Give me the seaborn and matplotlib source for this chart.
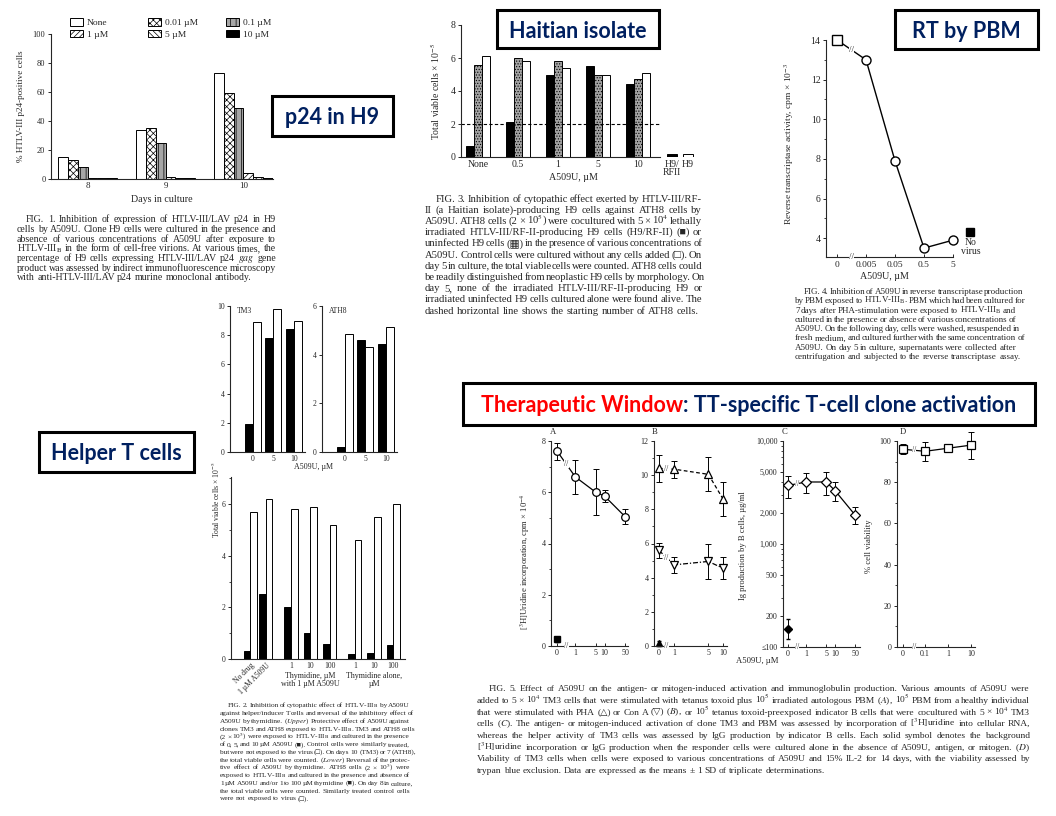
import numpy as np
import pandas as pd
import matplotlib
matplotlib.use("Agg")
import matplotlib.pyplot as plt
import matplotlib.transforms as mtrans
from matplotlib.legend import Legend
from matplotlib.patches import Patch, Rectangle
from matplotlib.ticker import LogLocator, NullFormatter
import seaborn as sns

W, H = 1056, 816

# ---------------- data ----------------
# Fig. 1  p24 in H9
days = ["8", "9", "10"]
p24_levels = ["None", "0.01 µM", "0.1 µM", "1 µM", "5 µM", "10 µM"]
p24_none = [15, 34, 73]
p24_001 = [13, 35, 59]
p24_01 = [8, 25, 49]
p24_1 = [1, 1.5, 4]
p24_5 = [1, 1, 1.5]
p24_10 = [1, 1, 1]

# Fig. 3  Haitian isolate
rf_doses = ["None", "0.5", "1", "5", "10"]
rf_series = ["H9/RF-II", "H9", "no cells"]
rf_h9rf = [0.65, 2.1, 4.95, 5.5, 4.4]
rf_h9 = [5.6, 6.0, 5.8, 5.0, 4.7]
rf_ctrl = [6.1, 5.8, 5.4, 5.0, 5.1]
rf_alone_labels = ["H9/\nRFII", "H9"]
rf_alone = [0.2, 0.2]
ath8_start = 2

# Fig. 4  RT by PBM
rt_doses = ["0", "0.005", "0.05", "0.5", "5"]
rt_cpm = [14.0, 13.0, 7.9, 3.5, 3.9]
rt_novirus = 4.3

# Fig. 2  Helper T cells
up_doses = ["0", "5", "10"]
tm3_virus = [1.9, 7.8, 8.4]
tm3_ctrl = [8.9, 9.8, 9.0]
ath8_virus = [0.2, 4.6, 4.45]
ath8_ctrl = [4.85, 4.3, 5.15]
thy_labels = ["No drug", "1 µM A509U", "1", "10", "100", "1", "10", "100"]
thy_virus = [0.3, 2.5, 2.0, 1.0, 0.6, 0.2, 0.25, 0.55]
thy_ctrl = [5.7, 6.2, 5.8, 5.9, 5.2, 4.6, 5.5, 6.0]

# Fig. 5  therapeutic window
a_dose = [0, 1, 5, 10, 50]
a_cpm = [7.6, 6.6, 6.0, 5.85, 5.05]
a_sd = [0.33, 0.65, 0.9, 0.23, 0.3]
a_bg, a_bg_sd = 0.26, 0.1
b_dose = [0, 1, 5, 10]
b_pha = [10.4, 10.35, 10.05, 8.6]
b_pha_sd = [0.8, 0.5, 1.0, 1.0]
b_cona = [5.6, 4.75, 4.95, 4.55]
b_cona_sd = [0.45, 0.45, 1.0, 0.65]
b_bg, b_bg_sd = 0.15, 0.15
c_dose = [0, 1, 5, 10, 50]
c_igg = [3700, 4000, 4000, 3300, 1900]
c_lo = [2800, 3100, 3000, 2600, 1550]
c_hi = [4600, 4900, 5000, 4000, 2300]
c_bg, c_bg_lo, c_bg_hi = 150, 120, 185
d_dose = [0, 0.1, 1, 10]
d_viab = [96, 95, 96.5, 98]
d_sd = [2.5, 4.5, 2, 6.5]

# ---------------- style ----------------
sns.set_style("ticks")
plt.rcParams["font.family"] = ["Liberation Serif", "DejaVu Serif", "DejaVu Sans"]
plt.rcParams["mathtext.fontset"] = "stix"
plt.rcParams["hatch.linewidth"] = 0.5
plt.rcParams["axes.linewidth"] = 0.8
plt.rcParams["xtick.major.size"] = 2.5
plt.rcParams["ytick.major.size"] = 2.5
plt.rcParams["ytick.minor.size"] = 1.5
plt.rcParams["xtick.major.width"] = 0.7
plt.rcParams["ytick.major.width"] = 0.7
plt.rcParams["ytick.minor.width"] = 0.6
plt.rcParams["xtick.major.pad"] = 1.5
plt.rcParams["ytick.major.pad"] = 1.5

NAVY = "#002060"
RED = "#FF0000"
BOXFONT = ["Lato", "DejaVu Sans"]

fig = plt.figure(figsize=(W / 100, H / 100), dpi=100)
fig.patch.set_facecolor("white")
renderer = fig.canvas.get_renderer()


def px_axes(x0, y0, x1, y1):
    return fig.add_axes([x0 / W, 1 - y1 / H, (x1 - x0) / W, (y1 - y0) / H])


def ftext(x, y, s, **kw):
    return fig.text(x / W, 1 - y / H, s, **kw)


def caption(lines, x0, x1, y0, y1, size, indent=9):
    # justified block of text, word by word, on a common baseline
    dy = (y1 - y0) / (len(lines) - 1)
    shift = 0.33 * size * 100 / 72
    for i, line in enumerate(lines):
        words = line.split()
        y = 1 - (y0 + i * dy + shift) / H
        start = x0 + (indent if i == 0 else 0)
        texts = [fig.text(0, y, w, fontsize=size, va="baseline", ha="left") for w in words]
        widths = [t.get_window_extent(renderer).width for t in texts]
        natural = size * 100 / 72 * 0.25
        if i == len(lines) - 1 or len(words) < 2:
            gap = natural
        else:
            gap = max((x1 - start - sum(widths)) / (len(words) - 1), 1.0)
        x = start
        for t, w in zip(texts, widths):
            t.set_x(x / W)
            x += w + gap


def title_box(x0, y0, x1, y1, parts, size=15.5):
    fig.add_artist(Rectangle((x0 / W, 1 - y1 / H), (x1 - x0) / W, (y1 - y0) / H,
                             transform=fig.transFigure, fill=False,
                             edgecolor="black", lw=2.2))
    yc = 1 - (y0 + y1) / 2 / H
    texts = [fig.text(0, yc, s, color=c, fontsize=size, fontweight="bold",
                      family=BOXFONT, va="center_baseline", ha="left") for s, c in parts]
    widths = [t.get_window_extent(renderer).width for t in texts]
    x = (x0 + x1) / 2 - sum(widths) / 2
    for t, w in zip(texts, widths):
        t.set_x(x / W)
        x += w


def brk(ax, x, y, trans=None, size=6):
    ax.text(x, y, "//", fontsize=size, ha="center", va="center",
            transform=trans if trans is not None else ax.transData,
            bbox=dict(facecolor="white", edgecolor="none", pad=0.2),
            zorder=10, clip_on=False)


def dose_pos(doses, zero_pos):
    return np.array([np.log10(d) if d > 0 else zero_pos for d in doses])


# ================= Fig. 1 : p24 in H9 =================
ax1 = px_axes(51, 34, 273, 179)
df1 = pd.DataFrame({
    "day": days * len(p24_levels),
    "level": np.repeat(p24_levels, len(days)),
    "pct": p24_none + p24_001 + p24_01 + p24_1 + p24_5 + p24_10,
})
sns.barplot(df1, x="day", y="pct", hue="level", order=days, hue_order=p24_levels,
            width=0.76, errorbar=None, legend=False, saturation=1,
            edgecolor="black", linewidth=0.7, ax=ax1)
styles1 = [("white", ""), ("white", "xxxxx"), ("#a6a6a6", "|||"),
           ("white", "//////"), ("white", "\\\\\\\\\\\\"), ("black", "")]
for cont, (fc, ht) in zip(ax1.containers, styles1):
    for bar in cont:
        bar.set_facecolor(fc)
        bar.set_hatch(ht)
        bar.set_edgecolor("black")
ax1.set_xlim(-0.47, 2.38)
ax1.set_ylim(0, 100)
ax1.set_yticks(range(0, 101, 20))
ax1.tick_params(axis="x", length=0, labelsize=6.5, pad=2)
ax1.tick_params(axis="y", labelsize=6)
ax1.set_xlabel("Days in culture", fontsize=7.2)
ax1.xaxis.set_label_coords(0.5, -0.11)
ax1.set_ylabel("% HTLV-III p24-positive cells", fontsize=6.6)
ax1.yaxis.set_label_coords(-0.115, 0.5)
sns.despine(ax=ax1)
handles1 = [Patch(facecolor=fc, hatch=ht, edgecolor="black", lw=0.7) for fc, ht in styles1]
for cx, idx in [(70, [0, 3]), (148, [1, 4]), (226, [2, 5])]:
    leg = Legend(ax1, [handles1[i] for i in idx], [p24_levels[i] for i in idx],
                 loc="upper left", bbox_to_anchor=((cx - 51) / 222, (179 - 18) / 145),
                 frameon=False, fontsize=6.8, handlelength=1.4, handleheight=0.9,
                 handletextpad=0.4, labelspacing=0.25, borderpad=0, borderaxespad=0)
    ax1.add_artist(leg)

caption([
    "FIG. 1.  Inhibition of expression of HTLV-III/LAV p24 in H9",
    "cells by A509U. Clone H9 cells were cultured in the presence and",
    "absence of various concentrations of A509U after exposure to",
    r"HTLV-III$_\mathrm{B}$ in the form of cell-free virions. At various times, the",
    r"percentage of H9 cells expressing HTLV-III/LAV p24 $\it{gag}$ gene",
    "product was assessed by indirect immunofluorescence microscopy",
    "with anti-HTLV-III/LAV p24 murine monoclonal antibody.",
], 17, 276, 219, 277, 7.1)

# ================= Fig. 3 : Haitian isolate =================
ax3 = px_axes(461, 25, 700, 157)
df3 = pd.DataFrame({
    "dose": rf_doses * len(rf_series),
    "series": np.repeat(rf_series, len(rf_doses)),
    "cells": rf_h9rf + rf_h9 + rf_ctrl,
})
sns.barplot(df3, x="dose", y="cells", hue="series", order=rf_doses, hue_order=rf_series,
            width=0.6, errorbar=None, legend=False, saturation=1,
            edgecolor="black", linewidth=0.7, ax=ax3)
styles3 = [("black", ""), ("#a3a3a3", "......"), ("white", "")]
for cont, (fc, ht) in zip(ax3.containers, styles3):
    for bar in cont:
        bar.set_facecolor(fc)
        bar.set_hatch(ht)
        bar.set_edgecolor("black")
alone_pos = [len(rf_doses) - 0.15, len(rf_doses) + 0.25]
ax3.bar(alone_pos, rf_alone, width=0.25, color=["black", "white"],
        edgecolor="black", linewidth=0.7)
ax3.hlines(ath8_start, -0.43, 4.55, colors="black", linestyles=(0, (3, 2)), lw=0.8)
ax3.set_xlim(-0.43, 5.55)
ax3.set_ylim(0, 8)
ax3.set_yticks(range(0, 9, 2))
ax3.set_xticks(list(range(len(rf_doses))) + alone_pos)
ax3.set_xticklabels(rf_doses + rf_alone_labels, linespacing=0.95)
ax3.tick_params(axis="x", length=0, labelsize=7, pad=2)
ax3.tick_params(axis="y", labelsize=7)
sns.despine(ax=ax3)
ax3.spines["bottom"].set_bounds(-0.43, 4.55)
ax3.set_xlabel("A509U, µM", fontsize=7.2)
ax3.xaxis.set_label_coords(0.47, -0.12)
ax3.set_ylabel("Total viable cells × 10$^{-5}$", fontsize=7)
ax3.yaxis.set_label_coords(-0.08, 0.5)

caption([
    "FIG. 3.  Inhibition of cytopathic effect exerted by HTLV-III/RF-",
    "II (a Haitian isolate)-producing H9 cells against ATH8 cells by",
    "A509U. ATH8 cells (2 × 10$^5$) were cocultured with 5 × 10$^4$ lethally",
    "irradiated HTLV-III/RF-II-producing H9 cells (H9/RF-II) (■) or",
    "uninfected H9 cells (▦) in the presence of various concentrations of",
    "A509U. Control cells were cultured without any cells added (□). On",
    "day 5 in culture, the total viable cells were counted. ATH8 cells could",
    "be readily distinguished from neoplastic H9 cells by morphology. On",
    "day 5, none of the irradiated HTLV-III/RF-II-producing H9 or",
    "irradiated uninfected H9 cells cultured alone were found alive. The",
    "dashed horizontal line shows the starting number of ATH8 cells.",
], 425, 702, 198, 310, 7.7, indent=11)

# ================= Fig. 4 : RT by PBM =================
ax4 = px_axes(826, 40, 953, 257)
rt_pos = np.arange(len(rt_doses))
sns.lineplot(x=rt_pos, y=rt_cpm, color="black", lw=1.0, ax=ax4)
ax4.plot(rt_pos[:1], rt_cpm[:1], "s", mfc="white", mec="black", mew=1, ms=6.5,
         clip_on=False, zorder=5)
ax4.plot(rt_pos[1:], rt_cpm[1:], "o", mfc="white", mec="black", mew=1, ms=6.5,
         clip_on=False, zorder=5)
nv_x = len(rt_doses) - 0.4
ax4.plot([nv_x], [rt_novirus], "s", color="black", ms=5.5, clip_on=False)
ax4.text(nv_x, rt_novirus - 0.3, "No\nvirus", ha="center", va="top", fontsize=7,
         linespacing=0.95, clip_on=False)
ax4.set_xlim(-0.38, 4.0)
ax4.set_ylim(3.05, 14)
ax4.set_xticks(rt_pos)
ax4.set_xticklabels(rt_doses)
ax4.set_yticks(range(4, 15, 2))
ax4.set_yticks(range(5, 14, 2), minor=True)
ax4.tick_params(axis="x", direction="in", labelsize=6.8, pad=3)
ax4.tick_params(axis="y", labelsize=7)
sns.despine(ax=ax4)
brk(ax4, (rt_pos[0] + rt_pos[1]) / 2, 0,
    mtrans.blended_transform_factory(ax4.transData, ax4.transAxes), size=6.5)
brk(ax4, (rt_pos[0] + rt_pos[1]) / 2, (rt_cpm[0] + rt_cpm[1]) / 2, size=6.5)
ax4.set_xlabel("A509U, µM", fontsize=7.2)
ax4.xaxis.set_label_coords(0.46, -0.07)
ax4.set_ylabel("Reverse transcriptase activity, cpm × 10$^{-3}$", fontsize=6.8)
ax4.yaxis.set_label_coords(-0.235, 0.52)

caption([
    "FIG. 4.  Inhibition of A509U in reverse transcriptase production",
    r"by PBM exposed to HTLV-III$_\mathrm{B}$. PBM which had been cultured for",
    r"7 days after PHA-stimulation were exposed to HTLV-III$_\mathrm{B}$ and",
    "cultured in the presence or absence of various concentrations of",
    "A509U. On the following day, cells were washed, resuspended in",
    "fresh medium, and cultured further with the same concentration of",
    "A509U. On day 5 in culture, supernatants were collected after",
    "centrifugation and subjected to the reverse transcriptase assay.",
], 795, 1016, 291, 356, 6.5)

# ================= Fig. 2 : Helper T cells =================
def paired_bars(ax, doses, virus, ctrl):
    df = pd.DataFrame({"dose": doses * 2,
                       "group": ["virus"] * len(doses) + ["control"] * len(doses),
                       "cells": virus + ctrl})
    sns.barplot(df, x="dose", y="cells", hue="group", order=doses,
                hue_order=["virus", "control"], palette=["black", "white"],
                width=0.77, errorbar=None, legend=False, saturation=1,
                edgecolor="black", linewidth=0.7, ax=ax)
    ax.set_xlim(-1.1, 2.55)
    ax.set_xlabel("")
    ax.set_ylabel("")
    ax.tick_params(axis="x", length=0, labelsize=5.5, pad=2)
    ax.tick_params(axis="y", labelsize=5.5)
    sns.despine(ax=ax)


ax_tm3 = px_axes(230, 306, 305, 452)
paired_bars(ax_tm3, up_doses, tm3_virus, tm3_ctrl)
ax_tm3.set_ylim(0, 10)
ax_tm3.set_yticks(range(0, 11, 2))
ax_tm3.text(0.09, 0.965, "TM3", transform=ax_tm3.transAxes, fontsize=5.5, va="center")

ax_ath = px_axes(322, 306, 397, 452)
paired_bars(ax_ath, up_doses, ath8_virus, ath8_ctrl)
ax_ath.set_ylim(0, 6)
ax_ath.set_yticks(range(0, 7, 2))
ax_ath.text(0.09, 0.965, "ATH8", transform=ax_ath.transAxes, fontsize=5.5, va="center")
ftext(313, 467, "A509U, µM", fontsize=5.8, ha="center", va="center")

ax_thy = px_axes(231, 477, 405, 659)
thy_pos = [0, 0.8, 2.1, 3.1, 4.1, 5.4, 6.4, 7.4]
bw = 0.34
ax_thy.bar([p - bw / 2 for p in thy_pos], thy_virus, width=bw, color="black",
           edgecolor="black", linewidth=0.7)
ax_thy.bar([p + bw / 2 for p in thy_pos], thy_ctrl, width=bw, color="white",
           edgecolor="black", linewidth=0.7)
ax_thy.set_xlim(-1.0, 8.0)
ax_thy.set_ylim(0, 7.05)
ax_thy.set_yticks([0, 2, 4, 6])
ax_thy.set_yticks([1, 3, 5, 7], minor=True)
ax_thy.set_xticks(thy_pos)
ax_thy.set_xticklabels(thy_labels)
for lab in ax_thy.get_xticklabels()[:2]:
    lab.set_rotation(45)
    lab.set_ha("right")
    lab.set_va("top")
    lab.set_rotation_mode("anchor")
ax_thy.tick_params(axis="x", length=0, labelsize=5.5, pad=2)
ax_thy.tick_params(axis="y", labelsize=5.5)
sns.despine(ax=ax_thy)
for grp, text in [(thy_pos[2:5], "Thymidine, µM\nwith 1 µM A509U"),
                  (thy_pos[5:8], "Thymidine alone,\nµM")]:
    ax_thy.annotate(text, xy=(np.mean(grp), 0), xycoords=("data", "axes fraction"),
                    xytext=(0, -9.5), textcoords="offset points", ha="center", va="top",
                    fontsize=5.8, linespacing=1.0)
ftext(216, 500, "Total viable cells × 10$^{-5}$", fontsize=5.5, rotation=90,
      ha="center", va="center")

caption([
    r"FIG. 2.  Inhibition of cytopathic effect of HTLV-III$_\mathrm{B}$ by A509U",
    "against helper/inducer T cells and reversal of the inhibitory effect of",
    r"A509U by thymidine. ($\it{Upper}$) Protective effect of A509U against",
    r"clones TM3 and ATH8 exposed to HTLV-III$_\mathrm{B}$. TM3 and ATH8 cells",
    r"(2 × 10$^5$) were exposed to HTLV-III$_\mathrm{B}$ and cultured in the presence",
    "of 0, 5, and 10 µM A509U (■). Control cells were similarly treated,",
    "but were not exposed to the virus (□). On days 10 (TM3) or 7 (ATH8),",
    r"the total viable cells were counted. ($\it{Lower}$) Reversal of the protec-",
    "tive effect of A509U by thymidine. ATH8 cells (2 × 10$^5$) were",
    r"exposed to HTLV-III$_\mathrm{B}$ and cultured in the presence and absence of",
    "1 µM A509U and/or 1 to 100 µM thymidine (■). On day 8 in culture,",
    "the total viable cells were counted. Similarly treated control cells",
    "were not exposed to virus (□).",
], 220, 410, 705, 798, 5.3, indent=8)

# ================= Fig. 5 : therapeutic window =================
def f5_axes(x0, x1, y0=441, y1=646):
    ax = px_axes(x0, y0, x1, y1)
    sns.despine(ax=ax)
    ax.tick_params(axis="x", direction="in", labelsize=5.8, pad=2.5)
    ax.tick_params(axis="y", labelsize=5.8)
    return ax


def f5_series(ax, pos, vals, err, marker, ls="-"):
    sns.lineplot(x=pos, y=vals, color="black", lw=0.9, linestyle=ls, ax=ax)
    ax.errorbar(pos, vals, yerr=err, fmt="none", ecolor="black", elinewidth=0.7,
                capsize=2, capthick=0.7, clip_on=False)
    ax.plot(pos, vals, marker, mfc="white", mec="black", mew=0.9, ms=5.5,
            linestyle="none", zorder=5, clip_on=False)


def axis_brk(ax, x):
    brk(ax, x, 0, mtrans.blended_transform_factory(ax.transData, ax.transAxes), 5.5)


# A
axA = f5_axes(551, 628)
posA = dose_pos(a_dose, -0.62)
f5_series(axA, posA, a_cpm, a_sd, "o")
axA.errorbar(posA[:1], [a_bg], yerr=[a_bg_sd], fmt="s", color="black", ms=4,
             elinewidth=0.7, capsize=1.5)
axA.set_xlim(-0.83, 1.8)
axA.set_ylim(0, 8)
axA.set_yticks(range(0, 9, 2))
axA.set_yticks(range(1, 8, 2), minor=True)
axA.set_xticks(posA)
axA.set_xticklabels([str(d) for d in a_dose])
axis_brk(axA, (posA[0] + posA[1]) / 2)
brk(axA, (posA[0] + posA[1]) / 2, (a_cpm[0] + a_cpm[1]) / 2, size=5.5)
axA.set_ylabel("[$^3$H]Uridine incorporation, cpm × 10$^{-4}$", fontsize=6.2)
axA.yaxis.set_label_coords(-0.25, 0.41)

# B
axB = f5_axes(654, 727)
posB = dose_pos(b_dose, -0.31)
f5_series(axB, posB, b_pha, b_pha_sd, "^", ls=(0, (3, 2)))
f5_series(axB, posB, b_cona, b_cona_sd, "v", ls=(0, (4, 1.5, 1, 1.5)))
axB.errorbar(posB[:1], [b_bg], yerr=[b_bg_sd], fmt="^", color="black", ms=4,
             elinewidth=0.7, capsize=1.5, clip_on=False)
axB.set_xlim(-0.41, 1.08)
axB.set_ylim(0, 12)
axB.set_yticks(range(0, 13, 2))
axB.set_yticks(range(1, 12, 2), minor=True)
axB.set_xticks(posB)
axB.set_xticklabels([str(d) for d in b_dose])
axis_brk(axB, (posB[0] + posB[1]) / 2)
brk(axB, (posB[0] + posB[1]) / 2, (b_pha[0] + b_pha[1]) / 2, size=5.5)
brk(axB, (posB[0] + posB[1]) / 2, (b_cona[0] + b_cona[1]) / 2, size=5.5)

# C
axC = f5_axes(783, 860, y1=647)
axC.set_yscale("log")
posC = dose_pos(c_dose, -0.62)
c_err = [np.array(c_igg) - np.array(c_lo), np.array(c_hi) - np.array(c_igg)]
f5_series(axC, posC, c_igg, c_err, "D")
axC.errorbar(posC[:1], [c_bg], yerr=[[c_bg - c_bg_lo], [c_bg_hi - c_bg]], fmt="D",
             color="black", ms=4, elinewidth=0.7, capsize=1.5)
axC.set_xlim(-0.79, 1.86)
axC.set_ylim(100, 10000)
c_ticks = [100, 200, 500, 1000, 2000, 5000, 10000]
axC.set_yticks(c_ticks)
axC.set_yticklabels(["≤100", "200", "500", "1,000", "2,000", "5,000", "10,000"])
axC.yaxis.set_minor_locator(LogLocator(base=10, subs=(3, 4, 6, 7, 8, 9)))
axC.yaxis.set_minor_formatter(NullFormatter())
axC.set_xticks(posC)
axC.set_xticklabels([str(d) for d in c_dose])
axis_brk(axC, (posC[0] + posC[1]) / 2)
brk(axC, (posC[0] + posC[1]) / 2, np.sqrt(c_igg[0] * c_igg[1]), size=5.5)
axC.set_ylabel("Ig production by B cells, µg/ml", fontsize=6.2)
axC.yaxis.set_label_coords(-0.47, 0.49)

# D
axD = f5_axes(897, 975, y1=647)
posD = dose_pos(d_dose, -1.96)
f5_series(axD, posD, d_viab, d_sd, "s")
axD.set_xlim(-2.22, 1.17)
axD.set_ylim(0, 100)
axD.set_yticks(range(0, 101, 20))
axD.set_yticks(range(10, 100, 20), minor=True)
axD.set_xticks(posD)
axD.set_xticklabels([str(d) for d in d_dose])
axis_brk(axD, (posD[0] + posD[1]) / 2)
brk(axD, (posD[0] + posD[1]) / 2, (d_viab[0] + d_viab[1]) / 2, size=5.5)
axD.set_ylabel("% cell viability", fontsize=6.2)
axD.yaxis.set_label_coords(-0.31, 0.49)

for ax in (axA, axB, axC, axD):
    ax.tick_params(axis="y", which="minor", left=True, length=1.5)

for lx, letter in [(553, "A"), (655, "B"), (785, "C"), (903, "D")]:
    ftext(lx, 432, letter, fontsize=6.2, ha="center", va="center")
ftext(757, 661, "A509U, µM", fontsize=6.2, ha="center", va="center")

caption([
    "FIG. 5.  Effect of A509U on the antigen- or mitogen-induced activation and immunoglobulin production. Various amounts of A509U were",
    r"added to 5 × 10$^4$ TM3 cells that were stimulated with tetanus toxoid plus 10$^5$ irradiated autologous PBM ($\it{A}$), 10$^5$ PBM from a healthy individual",
    r"that were stimulated with PHA (△) or Con A (▽) ($\it{B}$), or 10$^5$ tetanus toxoid-preexposed indicator B cells that were cocultured with 5 × 10$^4$ TM3",
    r"cells ($\it{C}$). The antigen- or mitogen-induced activation of clone TM3 and PBM was assessed by incorporation of [$^3$H]uridine into cellular RNA,",
    "whereas the helper activity of TM3 cells was assessed by IgG production by indicator B cells. Each solid symbol denotes the background",
    r"[$^3$H]uridine incorporation or IgG production when the responder cells were cultured alone in the absence of A509U, antigen, or mitogen. ($\it{D}$)",
    "Viability of TM3 cells when cells were exposed to various concentrations of A509U and 15% IL-2 for 14 days, with the viability assessed by",
    "trypan blue exclusion. Data are expressed as the means ± 1 SD of triplicate determinations.",
], 477, 1030, 688, 770, 6.8, indent=12)

# ================= title boxes =================
title_box(272, 96, 393, 136, [("p24 in H9", NAVY)])
title_box(497, 10, 659, 48, [("Haitian isolate", NAVY)])
title_box(895, 10, 1038, 49, [("RT by PBM", NAVY)])
title_box(39, 432, 194, 472, [("Helper T cells", NAVY)])
title_box(463, 383, 1035, 425, [("Therapeutic Window", RED),
                                (": TT-specific T-cell clone activation", NAVY)])

fig.savefig("out.png", dpi=100, facecolor="white")
